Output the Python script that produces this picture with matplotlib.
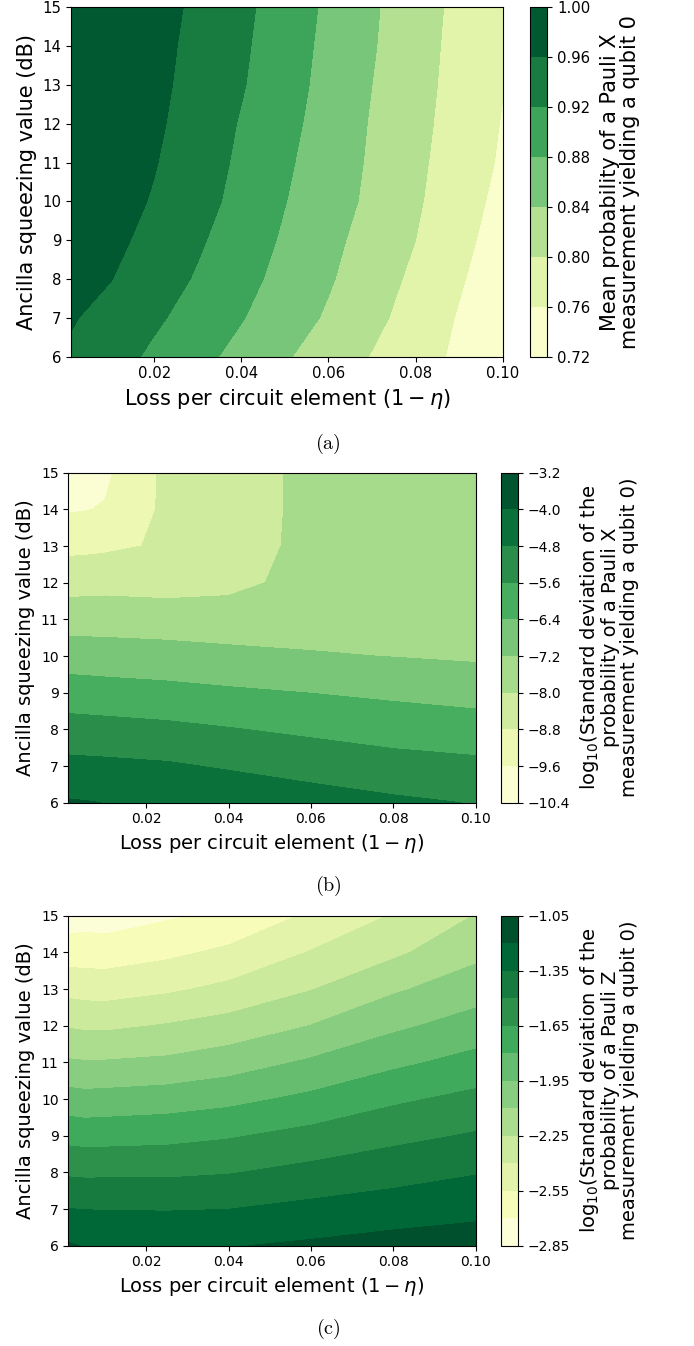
import numpy as np
import matplotlib
matplotlib.use("Agg")
import matplotlib.pyplot as plt

# ---------------- data ----------------
# Panel (a): mean probability of a Pauli X measurement yielding qubit 0
loss_a = [0.001, 0.01, 0.02, 0.03, 0.04, 0.05, 0.06, 0.07, 0.08, 0.09, 0.1]
squeeze_a = [6, 7, 8, 9, 10, 11, 12, 13, 14, 15]
mean_px = [
    [0.954, 0.935, 0.913, 0.891, 0.868, 0.844, 0.820, 0.798, 0.775, 0.753, 0.730],
    [0.963, 0.947, 0.926, 0.905, 0.882, 0.859, 0.835, 0.810, 0.784, 0.757, 0.731],
    [0.980, 0.961, 0.939, 0.916, 0.892, 0.868, 0.844, 0.818, 0.792, 0.764, 0.737],
    [0.985, 0.970, 0.948, 0.925, 0.900, 0.875, 0.850, 0.825, 0.800, 0.771, 0.743],
    [0.990, 0.975, 0.957, 0.933, 0.909, 0.881, 0.857, 0.832, 0.805, 0.777, 0.749],
    [0.993, 0.978, 0.962, 0.939, 0.913, 0.886, 0.860, 0.835, 0.808, 0.781, 0.755],
    [0.994, 0.980, 0.966, 0.944, 0.917, 0.891, 0.864, 0.837, 0.811, 0.784, 0.758],
    [0.995, 0.981, 0.968, 0.949, 0.923, 0.895, 0.868, 0.840, 0.813, 0.787, 0.7615],
    [0.995, 0.982, 0.969, 0.952, 0.926, 0.899, 0.870, 0.843, 0.816, 0.788, 0.762],
    [0.995, 0.983, 0.970, 0.955, 0.929, 0.902, 0.873, 0.845, 0.818, 0.790, 0.763],
]
levels_a = [0.72, 0.76, 0.80, 0.84, 0.88, 0.92, 0.96, 1.00]

# Panels (b) and (c) share a grid
loss_bc = [0.001, 0.005, 0.01, 0.025, 0.04, 0.06, 0.08, 0.1]
squeeze_bc = [6, 7, 8, 9, 10, 11, 12, 13, 14, 15]

# Panel (b): log10 std of Pauli X probability
log_std_px = [
    [-3.93, -3.96, -4.01, -4.06, -4.20, -4.45, -4.66, -4.83],
    [-4.59, -4.61, -4.63, -4.71, -4.88, -5.10, -5.31, -5.42],
    [-5.28, -5.30, -5.33, -5.42, -5.56, -5.75, -5.92, -6.05],
    [-6.02, -6.05, -6.08, -6.17, -6.28, -6.41, -6.55, -6.68],
    [-6.78, -6.80, -6.83, -6.89, -7.01, -7.13, -7.22, -7.31],
    [-7.55, -7.56, -7.56, -7.61, -7.63, -7.60, -7.55, -7.60],
    [-8.29, -8.28, -8.25, -8.30, -8.20, -7.75, -7.70, -7.70],
    [-9.00, -8.98, -8.93, -8.71, -8.35, -7.80, -7.75, -7.72],
    [-9.67, -9.63, -9.55, -8.63, -8.40, -7.80, -7.75, -7.72],
    [-10.10, -10.00, -9.73, -8.62, -8.40, -7.80, -7.75, -7.72],
]
levels_b = [-10.4, -9.6, -8.8, -8.0, -7.2, -6.4, -5.6, -4.8, -4.0, -3.2]

# Panel (c): log10 std of Pauli Z probability
log_std_pz = [
    [-1.185, -1.207, -1.214, -1.220, -1.207, -1.177, -1.143, -1.124],
    [-1.347, -1.353, -1.355, -1.358, -1.351, -1.311, -1.276, -1.241],
    [-1.521, -1.527, -1.526, -1.525, -1.508, -1.457, -1.408, -1.359],
    [-1.699, -1.709, -1.706, -1.694, -1.664, -1.604, -1.539, -1.486],
    [-1.888, -1.900, -1.894, -1.875, -1.840, -1.766, -1.675, -1.611],
    [-2.082, -2.090, -2.088, -2.070, -2.021, -1.929, -1.832, -1.750],
    [-2.263, -2.274, -2.277, -2.240, -2.192, -2.097, -1.979, -1.888],
    [-2.446, -2.460, -2.463, -2.424, -2.365, -2.257, -2.121, -2.017],
    [-2.621, -2.621, -2.626, -2.582, -2.520, -2.392, -2.279, -2.139],
    [-2.782, -2.764, -2.774, -2.719, -2.670, -2.527, -2.390, -2.245],
]
levels_c = [-2.85, -2.70, -2.55, -2.40, -2.25, -2.10, -1.95, -1.80,
            -1.65, -1.50, -1.35, -1.20, -1.05]
cbar_ticks_c = [-2.85, -2.55, -2.25, -1.95, -1.65, -1.35, -1.05]

xticks = [0.02, 0.04, 0.06, 0.08, 0.10]
yticks = [6, 7, 8, 9, 10, 11, 12, 13, 14, 15]

xlabel = r"Loss per circuit element $(1-\eta)$"
ylabel = "Ancilla squeezing value (dB)"
cl_a = "Mean probability of a Pauli X\nmeasurement yielding a qubit 0"
cl_b = ("log$_{10}$(Standard deviation of the\nprobability of a Pauli X\n"
        "measurement yielding a qubit 0)")
cl_c = ("log$_{10}$(Standard deviation of the\nprobability of a Pauli Z\n"
        "measurement yielding a qubit 0)")

# ---------------- figure ----------------
W, H = 694, 1346
fig = plt.figure(figsize=(W / 100, H / 100), dpi=100)


def px_axes(l, t, r, b):
    return fig.add_axes([l / W, 1 - b / H, (r - l) / W, (b - t) / H])


def panel(ax_box, cax_box, x, y, z, levels, cticks, cfmt, clabel,
          tick_fs, lab_fs, cpad):
    ax = px_axes(*ax_box)
    cax = px_axes(*cax_box)
    X, Y = np.meshgrid(x, y)
    cs = ax.contourf(X, Y, np.array(z), levels=levels, cmap="YlGn")
    ax.set_xticks(xticks)
    ax.set_xticklabels([f"{t:.2f}" for t in xticks])
    ax.set_yticks(yticks)
    ax.tick_params(labelsize=tick_fs)
    ax.set_xlabel(xlabel, fontsize=lab_fs)
    ax.set_ylabel(ylabel, fontsize=lab_fs)
    cb = fig.colorbar(cs, cax=cax, ticks=cticks)
    cb.ax.set_yticklabels([cfmt.format(t).replace("-", "\u2212") for t in cticks])
    cb.ax.tick_params(labelsize=tick_fs)
    cb.set_label(clabel, fontsize=lab_fs, labelpad=cpad, linespacing=1.0)
    return ax, cb


panel((71.4, 7.3, 502.7, 356.7), (529.5, 7.3, 547.3, 356.7),
      loss_a, squeeze_a, mean_px, levels_a, levels_a, "{:.2f}", cl_a,
      10.7, 15, 7)
panel((68.3, 472.7, 475.5, 802.7), (501, 472.7, 517.7, 802.7),
      loss_bc, squeeze_bc, log_std_px, levels_b, levels_b, "{:.1f}", cl_b,
      10, 14, 6)
panel((68.3, 915.7, 475.5, 1245.7), (501, 915.7, 517.7, 1245.7),
      loss_bc, squeeze_bc, log_std_pz, levels_c, cbar_ticks_c, "{:.2f}", cl_c,
      10, 14, 6)

for lab, ycen in (("(a)", 444), ("(b)", 886), ("(c)", 1329)):
    fig.text(328 / W, 1 - ycen / H, r"$\mathrm{" + lab + "}$", ha="center",
             va="center", fontsize=14.5, math_fontfamily="cm")

fig.savefig("out.png", dpi=100)
